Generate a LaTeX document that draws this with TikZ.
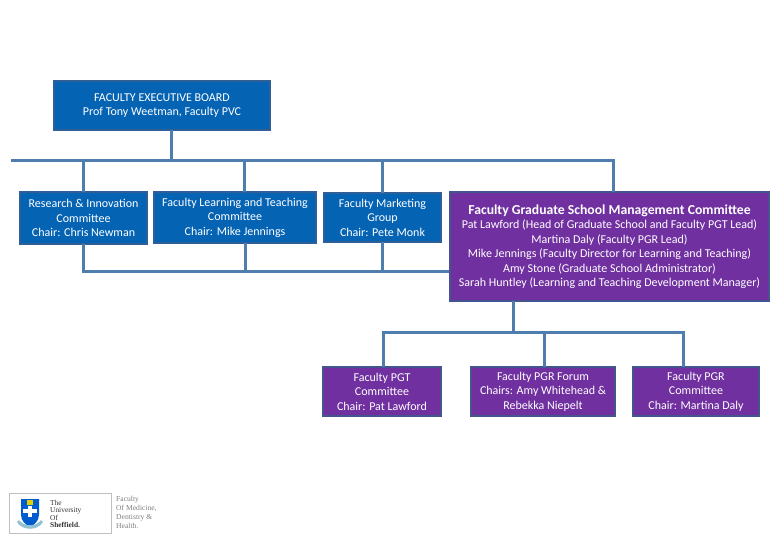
\documentclass[tikz,border=0pt]{standalone}
\usepackage{fontspec}
\setmainfont{Carlito}
\newfontfamily\logofont{Liberation Serif}
\definecolor{bluefill}{HTML}{0563B4}
\definecolor{blueedge}{HTML}{2F5F96}
\definecolor{purplefill}{HTML}{7030A0}
\definecolor{purpleedge}{HTML}{44548F}
\definecolor{linkcol}{HTML}{4F7DAE}
\tikzset{
  x=1pt,y=-1pt,
  boxbase/.style={text=white,align=center,font=\fontsize{12}{14.4}\selectfont,line width=2.4pt,inner sep=0pt,outer sep=0pt},
  bluebox/.style={boxbase,fill=bluefill,draw=blueedge},
  purplebox/.style={boxbase,fill=purplefill,draw=purpleedge},
  link/.style={draw=linkcol,line width=3pt,line cap=butt},
  logoname/.style={font=\logofont\fontsize{7.4}{7.6}\selectfont,align=left,inner sep=0pt,anchor=west},
  logofac/.style={font=\logofont\fontsize{7.6}{9}\selectfont,align=left,inner sep=0pt,anchor=west},
}
\begin{document}
\begin{tikzpicture}
\useasboundingbox[fill=white] (0,0) rectangle (780,540);
% links junctions
\coordinate (top1) at (11,161);
\coordinate (top2) at (613,161);
\coordinate (tjExec) at (171,161);
\coordinate (tjR) at (83,161);
\coordinate (tjL) at (244,161);
\coordinate (tjM) at (382,161);
\coordinate (lowR) at (83,272);
\coordinate (lowL) at (245,272);
\coordinate (lowM) at (382,272);
\coordinate (lowG) at (449,272);
\coordinate (busMid) at (513,333);
\coordinate (busA) at (383,333);
\coordinate (busB) at (544,333);
\coordinate (busC) at (683,333);
% boxes
\node[bluebox,minimum width=216,minimum height=49] (exec) at (162,105.5) {FACULTY EXECUTIVE BOARD\\Prof Tony Weetman, Faculty PVC};
\node[bluebox,minimum width=127,minimum height=52] (res) at (83.5,218) {Research \& Innovation\\Committee\\Chair: Chris Newman};
\node[bluebox,minimum width=162,minimum height=51] (learn) at (235,217.5) {Faculty Learning and Teaching\\Committee\\Chair: Mike Jennings};
\node[bluebox,minimum width=117,minimum height=49] (mark) at (382.5,217.5) {Faculty Marketing\\Group\\Chair: Pete Monk};
\node[purplebox,minimum width=319,minimum height=109] (grad) at (609.5,246.5) {{\fontsize{13.7}{15}\selectfont\bfseries Faculty Graduate School Management Committee}\\[0.5pt]Pat Lawford (Head of Graduate School and Faculty PGT Lead)\\Martina Daly (Faculty PGR Lead)\\Mike Jennings (Faculty Director for Learning and Teaching)\\Amy Stone (Graduate School Administrator)\\Sarah Huntley (Learning and Teaching Development Manager)};
\node[purplebox,minimum width=118,minimum height=49] (pgt) at (382,391.5) {Faculty PGT\\Committee\\Chair: Pat Lawford};
\node[purplebox,minimum width=144,minimum height=49] (forum) at (543,391.5) {Faculty PGR Forum\\Chairs: Amy Whitehead \&\\Rebekka Niepelt};
\node[purplebox,minimum width=126,minimum height=49] (pgr) at (696,391.5) {Faculty PGR\\Committee\\Chair: Martina Daly};
% connectors
\draw[link] (top1) -- (top2) -- (top2 |- grad.north);
\draw[link] (exec.south -| tjExec) -- (tjExec);
\draw[link] (tjR) -- (tjR |- res.north);
\draw[link] (tjL) -- (tjL |- learn.north);
\draw[link] (tjM) -- (tjM |- mark.north);
\draw[link] (lowR |- res.south) -- (lowR) -- (lowG);
\draw[link] (lowL |- learn.south) -- (lowL);
\draw[link] (lowM |- mark.south) -- (lowM);
\draw[link] (busMid |- grad.south) -- (busMid);
\draw[link] (busA |- pgt.north) -- (busA) -- (busC) -- (busC |- pgr.north);
\draw[link] (busB) -- (busB |- forum.north);
% logo
\node[draw=black!25,line width=.5pt,minimum width=102,minimum height=40,inner sep=0pt] (logobox) at (60,513) {};
\node[logoname,text=black!80] (logotitle) at (50,514) {The\\University\\Of\\\textbf{Sheffield.}};
\node[logofac,text=black!50] (logotext) at (116,512) {Faculty\\Of Medicine,\\Dentistry \&\\Health.};
\fill[blue!55!cyan!80!black] (21,499) -- (39,499) -- (39,515) .. controls (39,521) and (34,525) .. (30,527) .. controls (26,525) and (21,521) .. (21,515) -- cycle;
\fill[white] (23,509) rectangle (37,513);
\fill[white] (28,506) rectangle (32,517);
\fill[yellow!70!olive] (27,500) rectangle (33,505);
\fill[black!35!cyan!50!white] (17,522) .. controls (22,531) and (38,531) .. (43,522) -- (41,520) .. controls (36,527) and (24,527) .. (19,520) -- cycle;
\end{tikzpicture}
\end{document}
